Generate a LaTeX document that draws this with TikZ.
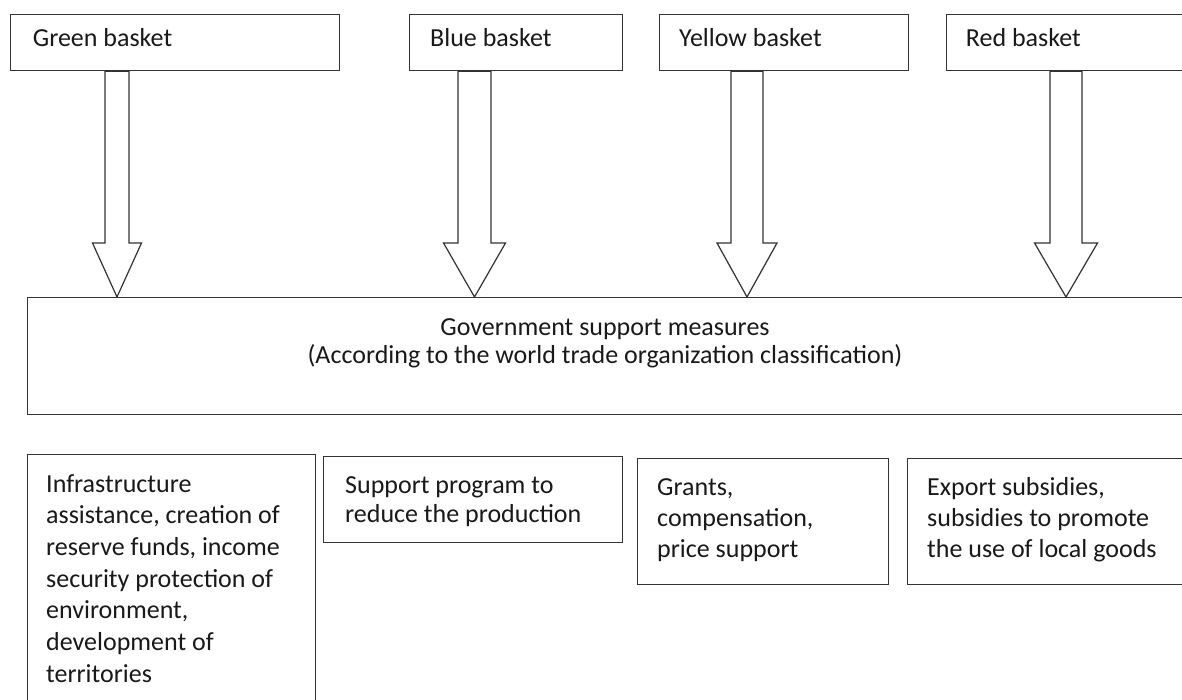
\documentclass[tikz,border=0pt]{standalone}
\usepackage{fontspec}
\setmainfont{Carlito}
\usetikzlibrary{calc}
\newcommand\blockarrow[4]{%
  \draw[barrow] ($(#1)+(-#3,0)$) -- ($(#2)+(-#3,-54)$) -- ($(#2)+(-#4,-54)$) -- (#2)
    -- ($(#2)+(#4,-54)$) -- ($(#2)+(#3,-54)$) -- ($(#1)+(#3,0)$) -- cycle;}
\begin{document}
\begin{tikzpicture}[x=1pt,y=-1pt,
  box/.style={draw=black!80, line width=1.2pt, fill=white, inner sep=0pt, anchor=north west},
  txt/.style={inner sep=0pt, font=\fontsize{26}{31.7}\selectfont, align=left, text=black!90},
  barrow/.style={draw=black!80, line width=1.2pt, fill=white, line join=miter}]
\useasboundingbox (0,0) rectangle (1182,700);
\clip (0,0) rectangle (1182,700);
\fill[white] (0,0) rectangle (1182,700);

% top boxes
\node[box, minimum width=329pt, minimum height=56pt] (green) at (10,14) {};
\node[box, minimum width=213pt, minimum height=56pt] (blue) at (409,14) {};
\node[box, minimum width=249pt, minimum height=56pt] (yellow) at (659,14) {};
\node[box, minimum width=300pt, minimum height=56pt] (red) at (946,14) {};

% main box
\node[box, minimum width=1200pt, minimum height=117pt] (main) at (27,297) {};

% bottom boxes
\node[box, minimum width=288pt, minimum height=300pt] (b1) at (27,454) {};
\node[box, minimum width=299pt, minimum height=86pt] (b2) at (323,456) {};
\node[box, minimum width=251pt, minimum height=126pt] (b3) at (637,458) {};
\node[box, minimum width=300pt, minimum height=126pt] (b4) at (907,458) {};

% arrow anchor points
\coordinate (ga) at (green.south -| 117,0);
\coordinate (gb) at (main.north -| 117,0);
\coordinate (ba) at (blue.south -| 474.5,0);
\coordinate (bb) at (main.north -| 474.5,0);
\coordinate (ya) at (yellow.south -| 747,0);
\coordinate (yb) at (main.north -| 747,0);
\coordinate (ra) at (red.south -| 1066,0);
\coordinate (rb) at (main.north -| 1066,0);

\blockarrow{ga}{gb}{12}{24.5}
\blockarrow{ba}{bb}{16.5}{31}
\blockarrow{ya}{yb}{16}{30}
\blockarrow{ra}{rb}{16}{31.5}

% texts
\node[txt, anchor=base west] (greent) at (32.7,46.7) {Green basket};
\node[txt, anchor=base west] (bluet) at (430,46.7) {Blue basket};
\node[txt, anchor=base west] (yellowt) at (679,46.7) {Yellow basket};
\node[txt, anchor=base west] (redt) at (965.7,46.7) {Red basket};

\node[txt, align=center, anchor=north, font=\fontsize{26}{28.3}\selectfont] (maint) at (605,315.2)
  {\strut Government support measures\\(According to the world trade organization classification)};

\node[txt, anchor=north west] (b1t) at (46,469.8)
  {\strut Infrastructure\\assistance, creation of\\reserve funds, income\\security protection of\\environment,\\development of\\territories};
\node[txt, anchor=north west, font=\fontsize{26}{29.4}\selectfont] (b2t) at (345,472.7)
  {\strut Support program to\\reduce the production};
\node[txt, anchor=north west, font=\fontsize{26}{31}\selectfont] (b3t) at (657,473.3)
  {\strut Grants,\\compensation,\\price support};
\node[txt, anchor=north west, font=\fontsize{26}{31}\selectfont] (b4t) at (927,473.3)
  {\strut Export subsidies,\\subsidies to promote\\the use of local goods};
\end{tikzpicture}
\end{document}
